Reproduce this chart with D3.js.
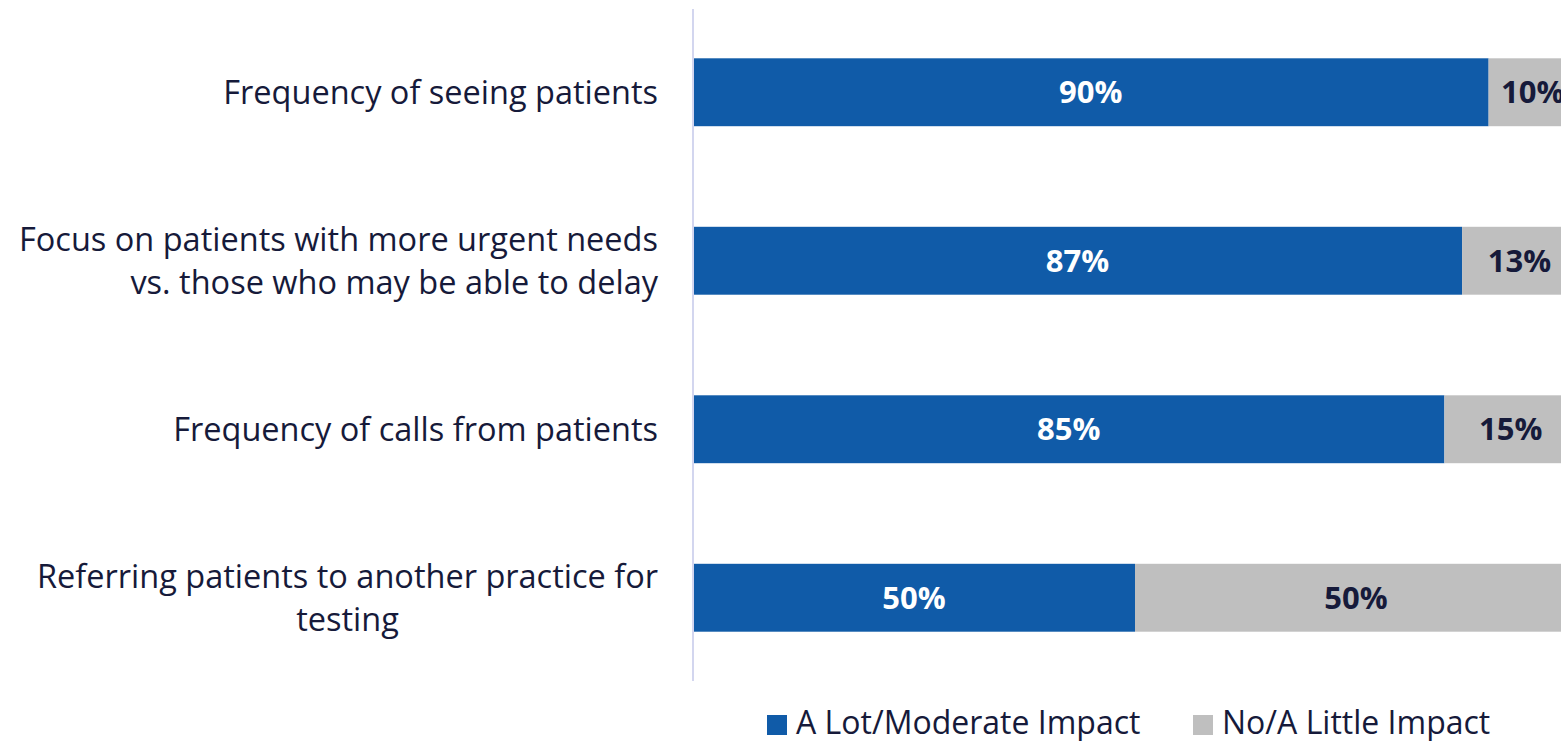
<!DOCTYPE html>
<html>
<head>
<meta charset="utf-8">
<script src="https://cdn.jsdelivr.net/npm/d3@7"></script>
<style>
  body { margin: 0; background: #fff; }
  svg { display: block; }
  .catLabel { font-family: "Open Sans", sans-serif; font-size: 32.5px; fill: #161a3a; }
  .valLabel { font-family: "Open Sans", sans-serif; font-size: 31px; font-weight: bold; }
  .legendText { font-family: "Open Sans", sans-serif; font-size: 32px; fill: #161a3a; }
</style>
</head>
<body>
<div class="chart"></div>
<script>
var svgWidth = 1561;
var svgHeight = 741;

// data
var categories = [
  "Frequency of seeing patients",
  "Focus on patients with more urgent needs|vs. those who may be able to delay",
  "Frequency of calls from patients",
  "Referring patients to another practice for|testing"
];
var labelAlign = ["end", "end", "end", "middle"];
var seriesNames = ["A Lot/Moderate Impact", "No/A Little Impact"];
var lotModerate = [90, 87, 85, 50];
var noLittle = [10, 13, 15, 50];
var seriesColors = ["#105ba8", "#bfbfbf"];
var labelColors = ["#ffffff", "#161a3a"];

var svg = d3.select(".chart")
  .append("svg")
  .attr("width", svgWidth)
  .attr("height", svgHeight);

var xScale = d3.scaleLinear().domain([0, 100]).range([693, 1577]);
var yScale = d3.scaleBand()
  .domain(categories)
  .range([8, 682])
  .paddingInner(0.597)
  .paddingOuter(0.2985);

var rows = categories.map(function(c, i) {
  return { cat: c, vals: [lotModerate[i], noLittle[i]] };
});

var stacked = [];
rows.forEach(function(r) {
  var x0 = 0;
  r.vals.forEach(function(v, s) {
    stacked.push({ cat: r.cat, s: s, x0: x0, x1: x0 + v, v: v });
    x0 += v;
  });
});

var bars = svg.append("g");
bars.selectAll("rect")
  .data(stacked)
  .enter().append("rect")
    .attr("x", function(d) { return xScale(d.x0); })
    .attr("y", function(d) { return yScale(d.cat); })
    .attr("width", function(d) { return xScale(d.x1) - xScale(d.x0); })
    .attr("height", yScale.bandwidth())
    .attr("fill", function(d) { return seriesColors[d.s]; });

bars.selectAll("text")
  .data(stacked)
  .enter().append("text")
    .attr("class", "valLabel")
    .attr("x", function(d) { return (xScale(d.x0) + xScale(d.x1)) / 2; })
    .attr("y", function(d) { return yScale(d.cat) + yScale.bandwidth() / 2; })
    .attr("dy", "0.36em")
    .attr("text-anchor", "middle")
    .attr("fill", function(d) { return labelColors[d.s]; })
    .text(function(d) { return d.v + "%"; });

// axis line
var leftAxis = d3.axisLeft(yScale).tickSize(0).tickSizeOuter(0).tickFormat("");
var axisG = svg.append("g")
  .attr("transform", "translate(693, 0)")
  .call(leftAxis);
axisG.select(".domain")
  .attr("stroke", "#d3d6ef")
  .attr("stroke-width", 2)
  .attr("d", "M0,9V681");

// category labels
var labelRight = 658;
var lineGap = 43;
categories.forEach(function(c, i) {
  var lines = c.split("|");
  var cy = yScale(c) + yScale.bandwidth() / 2;
  var top = cy - (lines.length - 1) * lineGap / 2;
  var t0 = svg.append("text")
    .attr("class", "catLabel")
    .attr("x", labelRight)
    .attr("y", top)
    .attr("dy", "0.36em")
    .attr("text-anchor", "end")
    .text(lines[0]);
  var w0 = t0.node().getComputedTextLength();
  for (var k = 1; k < lines.length; k++) {
    svg.append("text")
      .attr("class", "catLabel")
      .attr("x", labelAlign[i] == "middle" ? labelRight - w0 / 2 : labelRight)
      .attr("y", top + k * lineGap)
      .attr("dy", "0.36em")
      .attr("text-anchor", labelAlign[i])
      .text(lines[k]);
  }
});

// legend
var legendX = [767, 1193];
var legend = svg.append("g");
seriesNames.forEach(function(n, i) {
  legend.append("rect")
    .attr("x", legendX[i])
    .attr("y", 715)
    .attr("width", 20)
    .attr("height", 20)
    .attr("fill", seriesColors[i]);
  legend.append("text")
    .attr("class", "legendText")
    .attr("x", legendX[i] + 29)
    .attr("y", 734)
    .text(n);
});
</script>
</body>
</html>
